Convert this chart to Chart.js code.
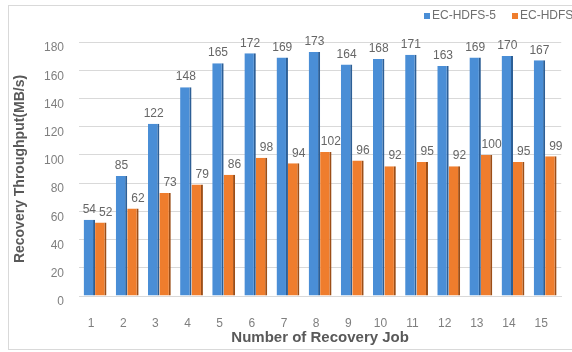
<!DOCTYPE html>
<html>
<head>
<meta charset="utf-8">
<script src="https://cdn.jsdelivr.net/npm/chart.js@4/dist/chart.umd.min.js"></script>
<style>
  html, body { margin: 0; padding: 0; background: #ffffff; overflow: hidden; }
  #wrap { width: 572px; height: 352px; }
</style>
</head>
<body>
<div id="wrap"><canvas id="c" width="572" height="352"></canvas></div>
<script>
// Recovery jobs on the x axis
const jobs = ['1','2','3','4','5','6','7','8','9','10','11','12','13','14','15'];
// Throughput per configuration (MB/s)
const ecHdfs5 = [54, 85, 122, 148, 165, 172, 169, 173, 164, 168, 171, 163, 169, 170, 167];
const ecHdfs3 = [52, 62, 73, 79, 86, 98, 94, 102, 96, 92, 95, 92, 100, 95, 99];
const seriesNames = ['EC-HDFS-5', 'EC-HDFS-3'];
const yTicks = [0, 20, 40, 60, 80, 100, 120, 140, 160, 180];

const BLUE = '#4a8ed6';
const ORANGE = '#ef7d2d';
const TEXT = '#595959';
const TICK = '#7f7f7f';
const FONT = "'Liberation Sans', Arial, sans-serif";

// Outer frame around the whole chart
const framePlugin = {
  id: 'frame',
  beforeDraw(chart) {
    const ctx = chart.ctx;
    ctx.save();
    ctx.fillStyle = '#ffffff';
    ctx.fillRect(0, 0, chart.width, chart.height);
    ctx.strokeStyle = '#d9d9d9';
    ctx.lineWidth = 1;
    ctx.strokeRect(8.5, 5.5, chart.width - 8, chart.height - 8);
    ctx.restore();
  }
};

// Value labels above each bar
const valueLabels = {
  id: 'valueLabels',
  afterDatasetsDraw(chart) {
    const ctx = chart.ctx;
    ctx.save();
    ctx.font = '12px ' + FONT;
    ctx.fillStyle = '#666666';
    ctx.textAlign = 'center';
    ctx.textBaseline = 'bottom';
    chart.data.datasets.forEach((ds, di) => {
      const meta = chart.getDatasetMeta(di);
      const dx = di === 0 ? 0 : 5;
      meta.data.forEach((bar, i) => {
        ctx.fillText(String(ds.data[i]), bar.x + dx, bar.y - 4);
      });
    });
    ctx.restore();
  }
};

// Legend in the top right corner
const cornerLegend = {
  id: 'cornerLegend',
  afterDraw(chart) {
    const ctx = chart.ctx;
    ctx.save();
    ctx.font = '12px ' + FONT;
    ctx.textBaseline = 'middle';
    ctx.textAlign = 'left';
    let x = 424;
    const y = 16;
    chart.data.datasets.forEach((ds) => {
      ctx.fillStyle = ds.backgroundColor;
      ctx.fillRect(x, y - 3, 6, 6);
      ctx.fillStyle = '#6f6f6f';
      ctx.fillText(ds.label, x + 8, y);
      x += 8 + ctx.measureText(ds.label).width + 16;
    });
    ctx.restore();
  }
};

new Chart(document.getElementById('c'), {
  type: 'bar',
  data: {
    labels: jobs,
    datasets: [
      {
        label: seriesNames[0],
        data: ecHdfs5,
        backgroundColor: BLUE,
        borderColor: '#2d5f96',
        borderWidth: { top: 0, left: 0, bottom: 0, right: 2 },
        borderSkipped: false
      },
      {
        label: seriesNames[1],
        data: ecHdfs3,
        backgroundColor: ORANGE,
        borderColor: '#9c4e17',
        borderWidth: { top: 0, left: 0, bottom: 0, right: 2 },
        borderSkipped: false
      }
    ]
  },
  options: {
    responsive: false,
    animation: false,
    devicePixelRatio: 1,
    layout: { padding: { top: 42, right: 5, bottom: 4, left: 8 } },
    datasets: {
      bar: { categoryPercentage: 0.71, barPercentage: 1.0 }
    },
    plugins: {
      legend: { display: false },
      tooltip: { enabled: false }
    },
    scales: {
      x: {
        afterFit(axis) { axis.height = 52; },
        grid: { display: false, drawTicks: false },
        border: { display: true, color: '#d9d9d9' },
        ticks: { color: TICK, font: { family: FONT, size: 12 }, padding: 20, labelOffset: -4 },
        title: {
          display: true,
          text: 'Number of Recovery Job',
          color: TEXT,
          font: { family: FONT, size: 15, weight: 'bold' },
          padding: { top: 0, bottom: 1 }
        }
      },
      y: {
        min: 0,
        max: 180,
        afterFit(axis) { axis.width = 71; },
        afterBuildTicks(axis) { axis.ticks = yTicks.map(v => ({ value: v })); },
        grid: { color: '#d9d9d9', drawTicks: false },
        border: { display: false },
        ticks: { color: TICK, font: { family: FONT, size: 12 }, padding: 15, labelOffset: 6 },
        title: {
          display: true,
          text: 'Recovery Throughput(MB/s)',
          color: TEXT,
          font: { family: FONT, size: 14, weight: 'bold' },
          padding: { top: 4, bottom: 0 }
        }
      }
    }
  },
  plugins: [framePlugin, valueLabels, cornerLegend]
});
</script>
</body>
</html>
